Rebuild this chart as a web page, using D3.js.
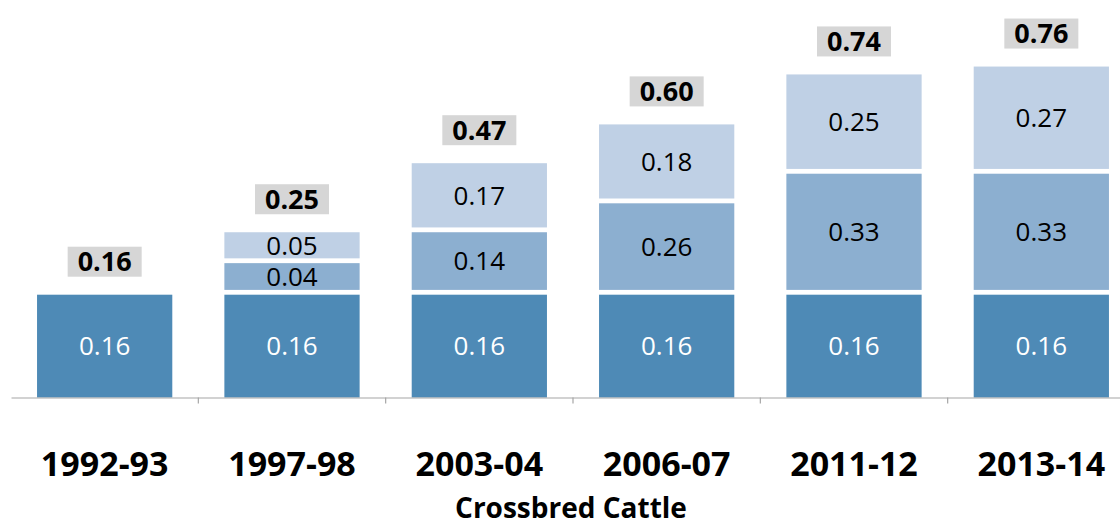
<!DOCTYPE html>
<html>
<head>
<meta charset="utf-8">
<script src="https://cdn.jsdelivr.net/npm/d3@7"></script>
<style>
  html, body { margin: 0; padding: 0; background: #ffffff; }
  svg { display: block; font-family: "Open Sans", "DejaVu Sans", sans-serif; }
</style>
</head>
<body>
<svg id="chart" width="1120" height="524"></svg>
<script>
// ---- data ----
const categories = ["1992-93", "1997-98", "2003-04", "2006-07", "2011-12", "2013-14"];
// drawn extents of each stacked segment (as they appear in the picture)
const seriesA = [0.16, 0.16, 0.16, 0.16, 0.16, 0.16];
const seriesB = [0, 0.048, 0.095, 0.139, 0.184, 0.184];
const seriesC = [0, 0.047, 0.105, 0.120, 0.151, 0.163];
// printed data labels
const labelsA = ["0.16", "0.16", "0.16", "0.16", "0.16", "0.16"];
const labelsB = ["", "0.04", "0.14", "0.26", "0.33", "0.33"];
const labelsC = ["", "0.05", "0.17", "0.18", "0.25", "0.27"];
const totalLabels = ["0.16", "0.25", "0.47", "0.60", "0.74", "0.76"];
const axisTitle = "Crossbred Cattle";

const keys = ["A", "B", "C"];
const colors = { A: "#4e8ab6", B: "#8cafd0", C: "#bfd0e5" };
const textColors = { A: "#ffffff", B: "#000000", C: "#000000" };
const labelSets = { A: labelsA, B: labelsB, C: labelsC };

const table = categories.map((c, i) => ({ cat: c, A: seriesA[i], B: seriesB[i], C: seriesC[i], i }));

const svg = d3.select("#chart");
const baseY = 397.5;

const x = d3.scaleBand()
  .domain(categories)
  .range([11, 1135])
  .paddingInner(0.278)
  .paddingOuter(0.139);

const y = d3.scaleLinear()
  .domain([0, 0.6])
  .range([baseY, baseY - 0.6 * 657.5]);

const stack = d3.stack().keys(keys);
const layers = stack(table);
const gap = 4.8;

const g = svg.append("g");

layers.forEach(layer => {
  const key = layer.key;
  const lg = g.append("g");
  const segs = layer.filter(d => d[1] - d[0] > 0);
  lg.selectAll("rect")
    .data(segs)
    .join("rect")
    .attr("x", d => x(d.data.cat))
    .attr("width", x.bandwidth())
    .attr("y", d => y(d[1]) + gap / 2)
    .attr("height", d => (y(d[0]) - (d[0] === 0 ? 0 : gap / 2)) - (y(d[1]) + gap / 2))
    .attr("fill", colors[key]);
  lg.selectAll("text")
    .data(segs)
    .join("text")
    .attr("x", d => x(d.data.cat) + x.bandwidth() / 2)
    .attr("y", d => {
      const top = y(d[1]) + gap / 2;
      const bot = y(d[0]) - (d[0] === 0 ? 0 : gap / 2);
      return (top + bot) / 2;
    })
    .attr("dy", "0.36em")
    .attr("text-anchor", "middle")
    .attr("font-size", 26)
    .attr("fill", textColors[key])
    .text(d => labelSets[key][d.data.i]);
});

// total labels in grey boxes
const topLayer = layers[layers.length - 1];
const tg = g.append("g");
topLayer.forEach(d => {
  const cx = x(d.data.cat) + x.bandwidth() / 2;
  const cy = y(d[1]) + gap / 2 - 33;
  const w = 74, h = 30;
  tg.append("rect")
    .attr("x", cx - w / 2)
    .attr("y", cy - h / 2)
    .attr("width", w)
    .attr("height", h)
    .attr("fill", "#d6d6d6");
  tg.append("text")
    .attr("x", cx)
    .attr("y", cy)
    .attr("dy", "0.36em")
    .attr("text-anchor", "middle")
    .attr("font-size", 27)
    .attr("font-weight", "bold")
    .attr("fill", "#000")
    .text(totalLabels[d.data.i]);
});

// x axis
const axis = svg.append("g")
  .attr("transform", `translate(0,${baseY})`)
  .call(d3.axisBottom(x).tickSize(0).tickSizeOuter(0));
axis.select(".domain").attr("stroke", "#a6a6a6").attr("stroke-width", 1.2);
axis.selectAll(".tick text")
  .attr("y", 78)
  .attr("dy", 0)
  .attr("font-size", 34)
  .attr("font-weight", "bold")
  .attr("font-family", "'Open Sans', sans-serif")
  .attr("fill", "#000");

// tick marks at category boundaries
const boundaries = categories.slice(1).map(c => x(c) - (x.step() - x.bandwidth()) / 2);
axis.selectAll("line.bound")
  .data(boundaries)
  .join("line")
  .attr("class", "bound")
  .attr("x1", d => d).attr("x2", d => d)
  .attr("y1", 0).attr("y2", 6)
  .attr("stroke", "#a6a6a6")
  .attr("stroke-width", 1.2);

svg.append("text")
  .attr("x", 571)
  .attr("y", 518)
  .attr("text-anchor", "middle")
  .attr("font-size", 28)
  .attr("font-weight", "bold")
  .attr("fill", "#000")
  .text(axisTitle);
</script>
</body>
</html>
